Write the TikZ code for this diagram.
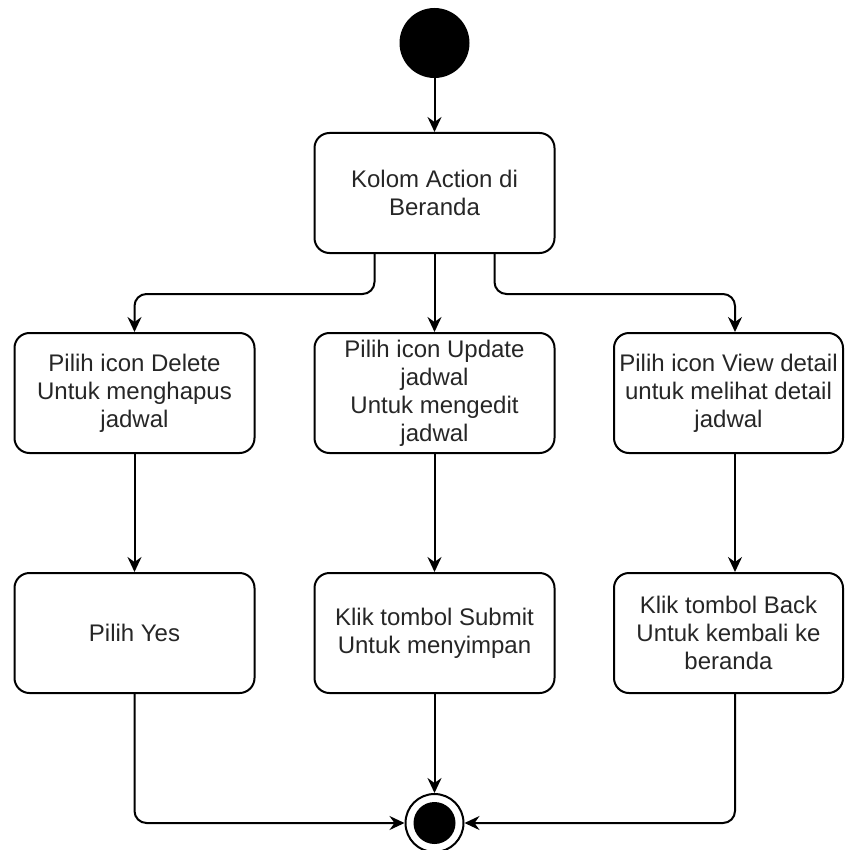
\documentclass[tikz,border=0pt]{standalone}
\usepackage{fontspec}
\setmainfont{Liberation Sans}
\usepackage{tikz}
\usetikzlibrary{arrows.meta}

\begin{document}
\begin{tikzpicture}[x=1pt, y=-1pt,
    act/.style={draw, line width=2pt, rounded corners=15pt, minimum width=240pt,
      minimum height=120pt, inner sep=0pt, align=center,
      font=\fontsize{24}{28}\selectfont, text=black!85},
    flow/.style={line width=2pt, rounded corners=12pt,
      -{Stealth[length=15pt, width=14pt, inset=5pt]}}]
        \useasboundingbox (0,0) rectangle (845,850);                     %
        \node [circle, fill=black, minimum size=70pt, inner sep=0pt] (start) at (434.5,43) {}; %
        \node [act] (kolom)  at (434.5,193) {Kolom Action di\\Beranda};  %
        \node [act] (delete) at (134.5,393) {Pilih icon Delete\\Untuk menghapus\\jadwal}; %
        \node [act] (update) at (434.5,393) {Pilih icon Update\\jadwal\\Untuk mengedit\\jadwal}; %
        \node [act, minimum width=229pt] (view) at (728.5,393) {Pilih icon View detail\\untuk melihat detail\\jadwal}; %
        \node [act] (yes)    at (134.5,633) {Pilih Yes};                 %
        \node [act] (submit) at (434.5,633) {Klik tombol Submit\\Untuk menyimpan}; %
        \node [act, minimum width=229pt] (back) at (728.5,633) {Klik tombol Back\\Untuk kembali ke\\beranda}; %
        \node [circle, draw, line width=2pt, minimum size=58pt, inner sep=0pt] (finish) at (434.5,823) {}; %
        \fill (finish.center) circle [radius=21pt];                      %end
        \coordinate (colR) at (735,0);                                   %

        \draw [flow] (start) -- (kolom);                                 %
        \draw [flow] ([xshift=-60pt]kolom.south) -- ++(0,40) -| (delete.north); %
        \draw [flow] (kolom) -- (update);                                %
        \draw [flow] ([xshift=60pt]kolom.south) -- ++(0,40) -| (view.north -| colR); %
        \draw [flow] (delete) -- (yes);                                  %
        \draw [flow] (update) -- (submit);                               %
        \draw [flow] (view.south -| colR) -- (back.north -| colR);       %
        \draw [flow] (yes.south) |- (finish.west);                       %
        \draw [flow] (submit) -- (finish);                               %
        \draw [flow] (back.south -| colR) |- (finish.east);              %
\end{tikzpicture}
\end{document}
